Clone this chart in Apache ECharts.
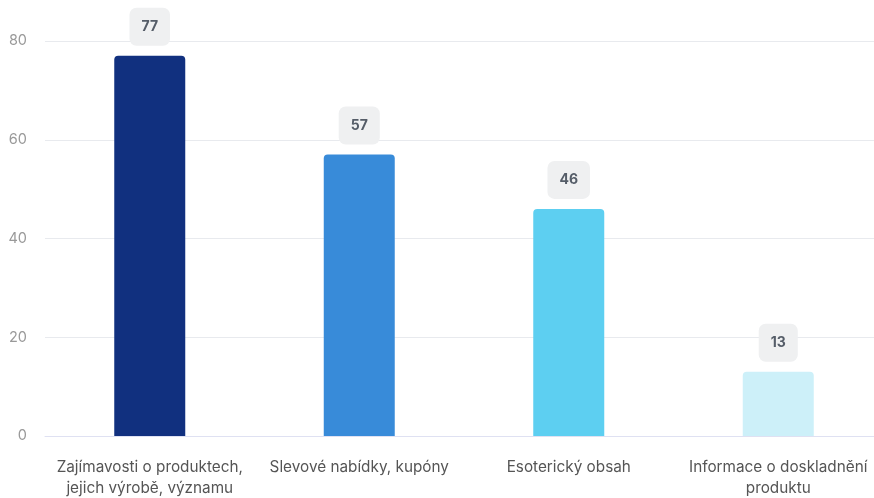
<!DOCTYPE html>
<html><head><meta charset="utf-8">
<script src="https://cdn.jsdelivr.net/npm/echarts@6/dist/echarts.min.js"></script>
<style>html,body{margin:0;padding:0;background:#fff}#c{width:874px;height:498px}</style>
</head><body><div id="c"></div>
<script>
const categories = ["Zajímavosti o produktech,\njejich výrobě, významu", "Slevové nabídky, kupóny", "Esoterický obsah", "Informace o doskladnění\nproduktu"];
const values = [77, 57, 46, 13];
const colors = ["#11307f", "#388bd9", "#5dcff1", "#cdf0f9"];
const yTicks = [0, 20, 40, 60, 80];

const chart = echarts.init(document.getElementById('c'));
chart.setOption({
  animation: false,
  grid: { left: 45, top: 41, width: 838, bottom: 62, containLabel: false, outerBoundsMode: 'none' },
  xAxis: {
    type: 'category', data: categories,
    axisLine: { lineStyle: { color: '#dfe1f2', width: 1 } },
    axisTick: { show: false },
    axisLabel: { color: '#555', fontSize: 15.3, fontFamily: 'Inter, sans-serif', lineHeight: 21, margin: 21, interval: 0 }
  },
  yAxis: {
    type: 'value', min: yTicks[0], max: yTicks[yTicks.length - 1], interval: 20,
    axisLine: { show: false }, axisTick: { show: false },
    splitLine: { lineStyle: { color: '#e8eaee' } },
    axisLabel: { color: '#999', fontSize: 14.5, fontFamily: 'Inter, sans-serif', margin: 18 }
  },
  series: [{
    type: 'bar', barWidth: 71,
    data: values.map((v, i) => ({ value: v, itemStyle: { color: colors[i] } })),
    itemStyle: { borderRadius: [4, 4, 0, 0] },
    label: {
      show: true, position: 'top', distance: 10,
      color: '#555d68', fontWeight: 'bold', fontSize: 14, fontFamily: 'Inter, sans-serif',
      backgroundColor: '#eff0f1', borderRadius: 7, padding: [12, 12, 12, 12]
    }
  }]
});
</script></body></html>
